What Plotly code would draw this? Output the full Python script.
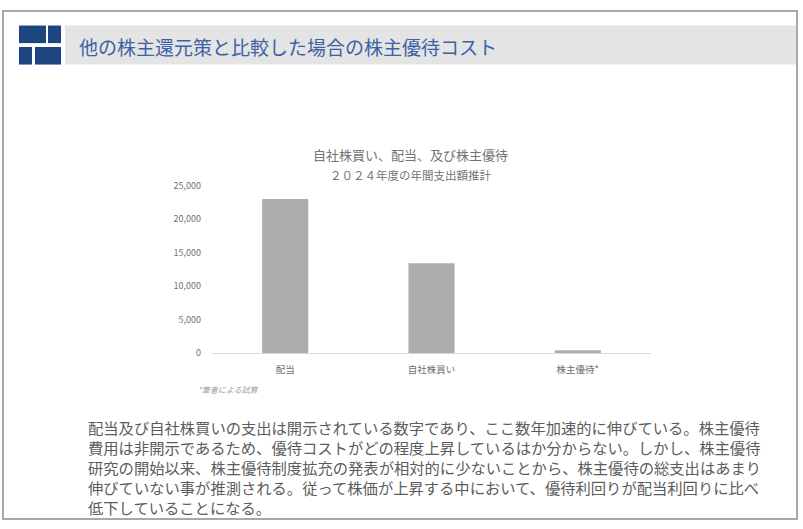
import plotly.graph_objects as go

W, H = 803, 529

categories = ["配当", "自社株買い", "株主優待*"]
values = [23000, 13400, 450]
tick_vals = [0, 5000, 10000, 15000, 20000, 25000]

page_title = "他の株主還元策と比較した場合の株主優待コスト"
chart_title = "自社株買い、配当、及び株主優待"
chart_subtitle = "２０２４年度の年間支出額推計"
footnote = "*筆者による試算"
body_lines = [
    "配当及び自社株買いの支出は開示されている数字であり、ここ数年加速的に伸びている。株主優待",
    "費用は非開示であるため、優待コストがどの程度上昇しているはか分からない。しかし、株主優待",
    "研究の開始以来、株主優待制度拡充の発表が相対的に少ないことから、株主優待の総支出はあまり",
    "伸びていない事が推測される。従って株価が上昇する中において、優待利回りが配当利回りに比べ",
    "低下していることになる。",
]

FONT = "Noto Sans CJK JP"


def px(x):
    return x / W


def py(y):
    return 1 - y / H


fig = go.Figure()
fig.add_trace(go.Bar(
    x=categories, y=values,
    marker=dict(color="#adadad", line=dict(width=0)),
    hoverinfo="x+y",
))

shapes = []
# slide frame
shapes.append(dict(type="rect", xref="paper", yref="paper",
                   x0=px(3), x1=px(797), y0=py(525), y1=py(4),
                   line=dict(color="#a8a8a8", width=2), fillcolor="rgba(0,0,0,0)", layer="below"))
# header band
shapes.append(dict(type="rect", xref="paper", yref="paper",
                   x0=px(65), x1=px(796), y0=py(59), y1=py(19),
                   line=dict(width=0), fillcolor="#e4e4e4", layer="below"))
# blue blocks
for (x0, x1, y0, y1) in [(19, 46, 19, 37), (48, 61, 19, 37), (19, 32, 41, 59), (35, 61, 41, 59)]:
    shapes.append(dict(type="rect", xref="paper", yref="paper",
                       x0=px(x0), x1=px(x1), y0=py(y1), y1=py(y0),
                       line=dict(width=0), fillcolor="#1b4680", layer="below"))

annotations = []
annotations.append(dict(text=page_title, x=px(77), y=py(41), xref="paper", yref="paper",
                        xanchor="left", yanchor="middle", showarrow=False,
                        font=dict(family=FONT, size=19, color="#3b62a6")))
annotations.append(dict(text=chart_title, x=px(410), y=py(151), xref="paper", yref="paper",
                        xanchor="center", yanchor="middle", showarrow=False,
                        font=dict(family=FONT, size=13, color="#737373")))
annotations.append(dict(text=chart_subtitle, x=px(410), y=py(172), xref="paper", yref="paper",
                        xanchor="center", yanchor="middle", showarrow=False,
                        font=dict(family=FONT, size=11.5, color="#737373")))
annotations.append(dict(text="<i>" + footnote + "</i>", x=px(196), y=py(392), xref="paper", yref="paper",
                        xanchor="left", yanchor="middle", showarrow=False,
                        font=dict(family=FONT, size=8, color="#a0a0a0")))
annotations.append(dict(text="<br>".join(body_lines), x=px(86), y=py(472), xref="paper", yref="paper",
                        xanchor="left", yanchor="middle", align="left", showarrow=False,
                        font=dict(family=FONT, size=15.3, color="#5c5c5c")))

fig.update_layout(
    width=W, height=H,
    margin=dict(l=0, r=0, t=0, b=0),
    paper_bgcolor="white", plot_bgcolor="white",
    showlegend=False,
    bargap=0.685,
    font=dict(family=FONT, color="#666666"),
    shapes=shapes,
    annotations=annotations,
    xaxis=dict(domain=[px(212), px(651)], showline=True, linecolor="#d9d9d9", linewidth=1,
               ticks="", showgrid=False, tickfont=dict(size=9.5, color="#707070"),
               ticklabelstandoff=7, fixedrange=True),
    yaxis=dict(domain=[py(355), py(183)], range=[0, 25000], tickvals=tick_vals,
               tickformat=",", showgrid=False, zeroline=False, showline=False,
               tickfont=dict(size=9, color="#707070"), ticklabelstandoff=10, fixedrange=True),
)

fig.write_html(
    "out.html",
    config={"displayModeBar": False},
    post_script=(
        "document.documentElement.style.margin='0';"
        "document.body.style.margin='0';document.body.style.padding='0';"
        "var d=document.getElementById('{plot_id}');"
        "d.style.position='fixed';d.style.left='0px';d.style.top='0px';"
    ),
)
